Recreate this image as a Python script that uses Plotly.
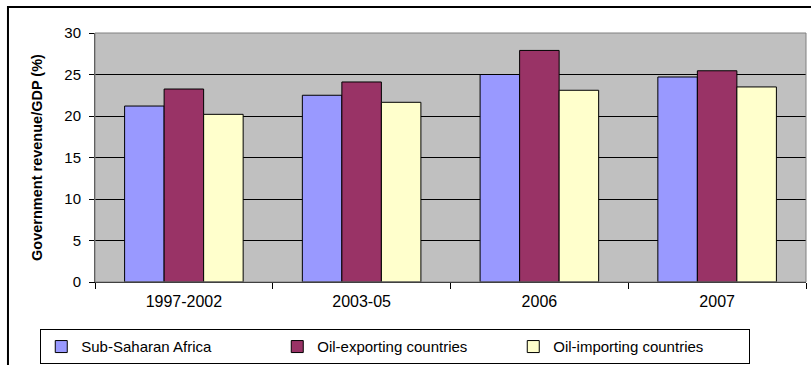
import plotly.graph_objects as go

categories = ["1997-2002", "2003-05", "2006", "2007"]
series_names = ["Sub-Saharan Africa", "Oil-exporting countries", "Oil-importing countries"]
ssa = [21.2, 22.5, 25.0, 24.7]
oil_exp = [23.25, 24.1, 27.9, 25.45]
oil_imp = [20.2, 21.65, 23.1, 23.5]
colors = ["#9999FF", "#993366", "#FFFFCC"]
y_ticks = [0, 5, 10, 15, 20, 25, 30]

FONT = "Arial, Liberation Sans, sans-serif"

fig = go.Figure()
for name, vals, col in zip(series_names, [ssa, oil_exp, oil_imp], colors):
    fig.add_trace(go.Bar(x=categories, y=vals, name=name, marker=dict(color=col, line=dict(color="black", width=1))))

fig.update_layout(
    width=811, height=365,
    margin=dict(l=95, r=5, t=33, b=83, autoexpand=False),
    paper_bgcolor="white", plot_bgcolor="#C0C0C0",
    barmode="group", bargap=0.333, bargroupgap=0,
    font=dict(family=FONT, size=15, color="black"),
    showlegend=True,
    legend=dict(orientation="h", x=-0.077, xanchor="left", y=-0.19, yanchor="top",
                bordercolor="black", borderwidth=1, bgcolor="white",
                entrywidth=191, entrywidthmode="pixels", tracegroupgap=0,
                font=dict(family=FONT, size=15), traceorder="normal"),
    xaxis=dict(showgrid=False, showline=True, linecolor="black", linewidth=1,
               ticks="outside", tickson="boundaries", ticklen=6, tickcolor="black",
               ticklabelstandoff=5,
               tickfont=dict(size=16), fixedrange=True),
    yaxis=dict(range=[0, 30], tickvals=y_ticks, showgrid=True, gridcolor="black", gridwidth=1,
               showline=True, linecolor="#404040", linewidth=1, zeroline=False,
               ticks="outside", ticklen=5, tickcolor="black", ticklabelstandoff=5,
               tickfont=dict(size=15),
               title=dict(text="<b>Government revenue/GDP (%)</b>", font=dict(size=14.5), standoff=18)),
)

# plot area gray border (top/right)
fig.add_shape(type="rect", xref="paper", yref="paper", x0=0, y0=0, x1=1, y1=1,
              line=dict(color="#808080", width=1), layer="above")
# outer chart frame
fig.add_shape(type="rect", xref="paper", yref="paper", x0=-0.1224, y0=-0.34, x1=1.01, y1=1.1044,
              line=dict(color="black", width=2), layer="above")

fig.write_html("out.html")
